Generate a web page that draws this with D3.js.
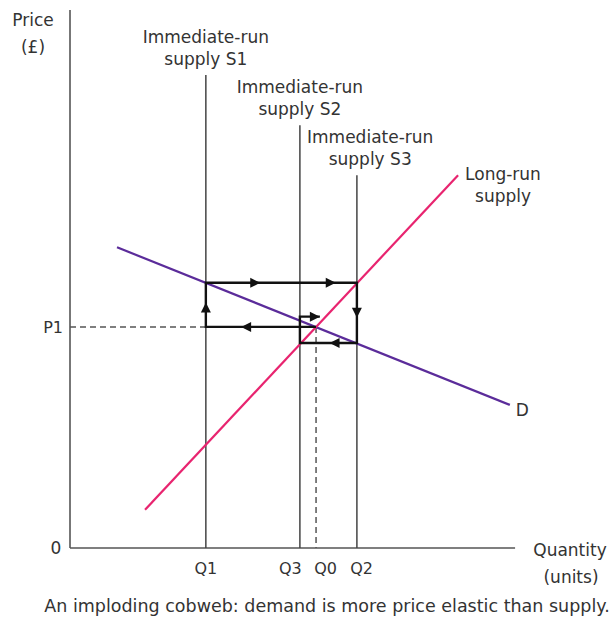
<!DOCTYPE html>
<html><head><meta charset="utf-8">
<script src="https://cdn.jsdelivr.net/npm/d3@7"></script>
<style>
html,body{margin:0;padding:0;background:#fff;}
text{font-family:"DejaVu Sans",sans-serif;fill:#333;}
</style></head>
<body>
<svg id="chart" width="613" height="624"></svg>
<script>
// ---- data (abstract units: quantity 0..100, price 0..100) ----
const qTicks = ["Q1","Q3","Q0","Q2"];
const qValues = [28.6, 48.4, 51.8, 60.4];
const qLabelOffset = [0, -2, 2, 1];
const pTicks = ["P1"];
const pValues = [41.1];
const axisMax = [93.7, 100];
const demand = [[9.9, 55.9],[92.6, 26.6]];
const longRunSupply = [[15.8, 7.1],[81.7, 69.3]];
const immediateNames = ["S1","S2","S3"];
const immediateQ = [28.6, 48.4, 60.4];
const immediateTop = [87.9, 78.6, 69.3];
const immediateLabelShift = [0, 0, 2.8];
// cobweb path (quantity, price)
const cobweb = [[51.8,41.1],[28.6,41.1],[28.6,49.3],[60.4,49.3],[60.4,38.1],[48.4,38.1],[48.4,43.0],[52.6,43.0]];
// arrows: segment index, fraction along segment (tip position)
const arrowSeg = [0, 1, 2, 2, 3, 4, 6];
const arrowFrac = [0.68, 0.55, 0.36, 0.86, 0.58, 0.48, 1.0];

const svg = d3.select("#chart");
const x = d3.scaleLinear().domain([0,100]).range([70,545]);
const y = d3.scaleLinear().domain([0,100]).range([548,10]);

// axes
const ax = svg.append("g");
ax.append("line").attr("x1",x(0)).attr("x2",x(0)).attr("y1",y(axisMax[1])).attr("y2",y(0))
  .attr("stroke","#555").attr("stroke-width",1.6);
ax.append("line").attr("x1",x(0)).attr("x2",x(axisMax[0])).attr("y1",y(0)).attr("y2",y(0))
  .attr("stroke","#555").attr("stroke-width",1.6);

const fs = 17;
// axis titles
svg.append("text").attr("x",33).attr("y",26).attr("text-anchor","middle").attr("font-size",fs).text("Price");
svg.append("text").attr("x",33).attr("y",53).attr("text-anchor","middle").attr("font-size",fs).text("(£)");
svg.append("text").attr("x",570).attr("y",556).attr("text-anchor","middle").attr("font-size",fs).text("Quantity");
svg.append("text").attr("x",571).attr("y",583).attr("text-anchor","middle").attr("font-size",fs).text("(units)");
svg.append("text").attr("x",56).attr("y",554).attr("text-anchor","middle").attr("font-size",fs).text("0");

// tick labels
svg.selectAll(".qt").data(qTicks).join("text")
  .attr("x",(d,i)=>x(qValues[i]+qLabelOffset[i])).attr("y",574).attr("text-anchor","middle").attr("font-size",16).text(d=>d);
svg.selectAll(".pt").data(pTicks).join("text")
  .attr("x",63).attr("y",(d,i)=>y(pValues[i])+6).attr("text-anchor","end").attr("font-size",16).text(d=>d);

// dashed guides
svg.append("line").attr("x1",x(0)).attr("x2",x(qValues[0])).attr("y1",y(pValues[0])).attr("y2",y(pValues[0]))
  .attr("stroke","#555").attr("stroke-width",1.5).attr("stroke-dasharray","6,4");
svg.append("line").attr("x1",x(qValues[2])).attr("x2",x(qValues[2])).attr("y1",y(pValues[0])).attr("y2",y(0))
  .attr("stroke","#555").attr("stroke-width",1.5).attr("stroke-dasharray","6,4");

// immediate-run supply lines
svg.selectAll(".s").data(immediateQ).join("line")
  .attr("x1",d=>x(d)).attr("x2",d=>x(d)).attr("y1",(d,i)=>y(immediateTop[i])).attr("y2",y(0))
  .attr("stroke","#444").attr("stroke-width",1.5);
immediateQ.forEach((q,i)=>{
  const ty = y(immediateTop[i]);
  const lx = x(q + immediateLabelShift[i]);
  svg.append("text").attr("x",lx).attr("y",ty-32).attr("text-anchor","middle").attr("font-size",fs).text("Immediate-run");
  svg.append("text").attr("x",lx).attr("y",ty-10).attr("text-anchor","middle").attr("font-size",fs).text("supply " + immediateNames[i]);
});

const line = d3.line().x(d=>x(d[0])).y(d=>y(d[1]));
// demand
svg.append("path").attr("d",line(demand)).attr("fill","none").attr("stroke","#5b2c9a").attr("stroke-width",2.2);
svg.append("text").attr("x",x(demand[1][0])+6).attr("y",y(demand[1][1])+11).attr("font-size",fs).text("D");
// long-run supply
svg.append("path").attr("d",line(longRunSupply)).attr("fill","none").attr("stroke","#e8246f").attr("stroke-width",2.2);
svg.append("text").attr("x",x(longRunSupply[1][0])+7).attr("y",y(longRunSupply[1][1])+5).attr("font-size",fs).text("Long-run");
svg.append("text").attr("x",x(longRunSupply[1][0])+17).attr("y",y(longRunSupply[1][1])+27).attr("font-size",fs).text("supply");

// cobweb
svg.append("path").attr("d",line(cobweb)).attr("fill","none").attr("stroke","#111").attr("stroke-width",2.4);
arrowSeg.forEach((s,i)=>{
  const a = cobweb[s], b = cobweb[s+1], f = arrowFrac[i];
  const px = x(a[0]+(b[0]-a[0])*f), py = y(a[1]+(b[1]-a[1])*f);
  const ang = Math.atan2(y(b[1])-y(a[1]), x(b[0])-x(a[0]))*180/Math.PI;
  svg.append("path").attr("d","M0,0 L-10,-5 L-10,5 Z").attr("fill","#111")
    .attr("transform",`translate(${px},${py}) rotate(${ang})`);
});

// caption
svg.append("text").attr("x",327).attr("y",612).attr("text-anchor","middle").attr("font-size",17.5).text("An imploding cobweb: demand is more price elastic than supply.");
</script>
</body></html>
